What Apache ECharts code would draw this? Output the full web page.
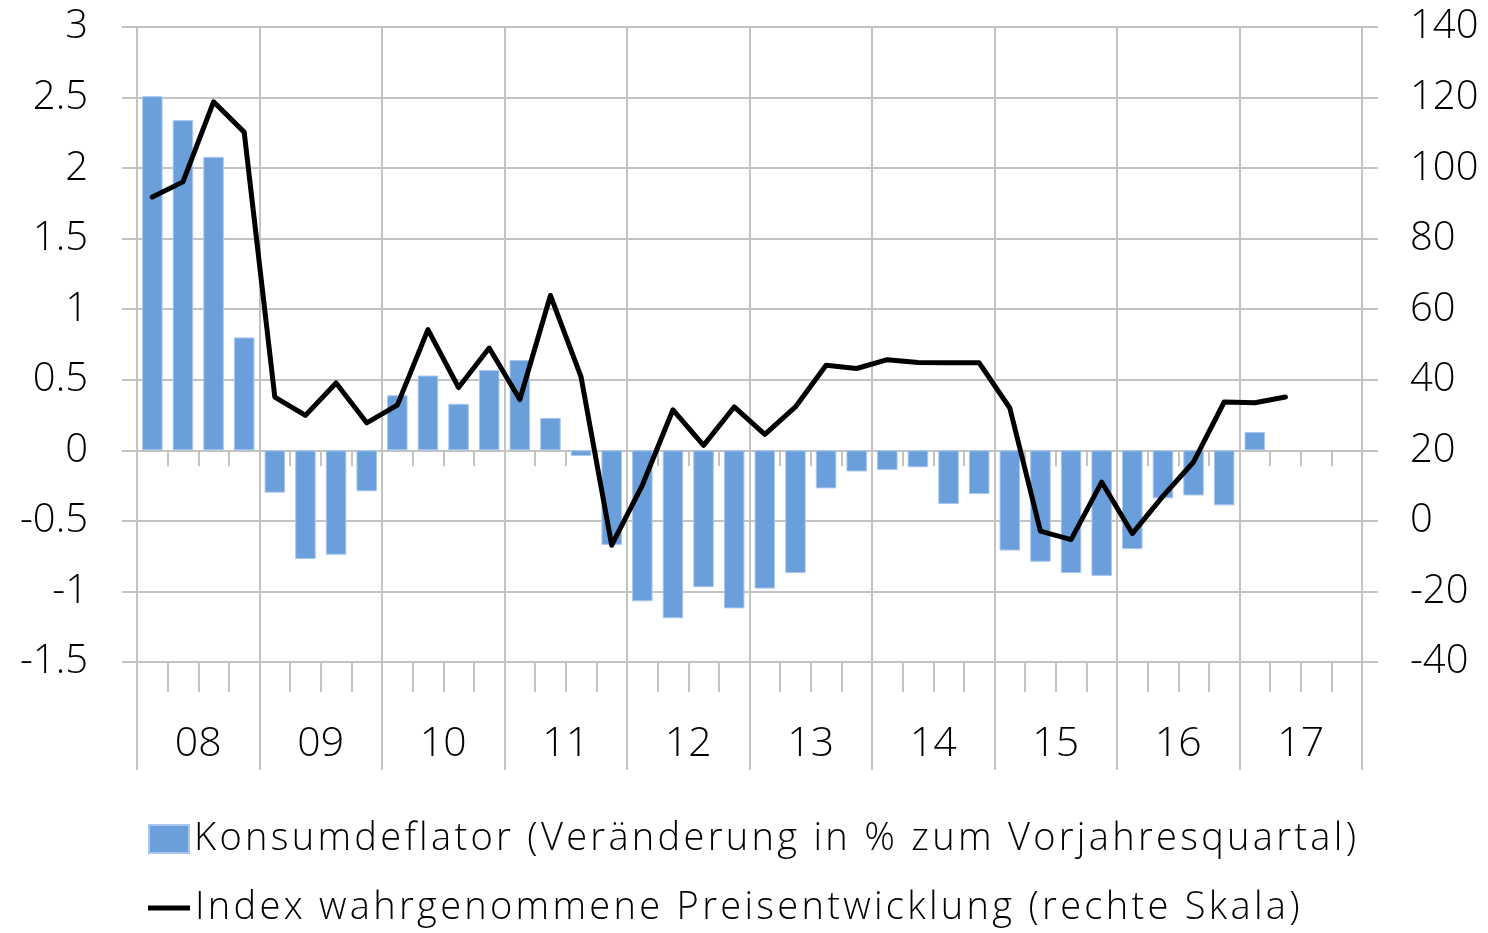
<!DOCTYPE html>
<html>
<head>
<meta charset="utf-8">
<script src="https://cdn.jsdelivr.net/npm/echarts@6/dist/echarts.min.js"></script>
<style>
html,body{margin:0;padding:0;background:#fff;}
#chart{width:1488px;height:933px;}
</style>
</head>
<body>
<div id="chart"></div>
<script>
// Quarters 2008Q1 .. 2017Q4
const years = ['08','09','10','11','12','13','14','15','16','17'];
const quarters = [];
years.forEach(function (y) { ['Q1','Q2','Q3','Q4'].forEach(function (q) { quarters.push(y + q); }); });

// Konsumdeflator (Veränderung in % zum Vorjahresquartal), left axis
const deflator = [
  2.51, 2.34, 2.08, 0.80,
  -0.30, -0.77, -0.74, -0.29,
  0.39, 0.53, 0.33, 0.57,
  0.64, 0.23, -0.04, -0.67,
  -1.07, -1.19, -0.97, -1.12,
  -0.98, -0.87, -0.27, -0.15,
  -0.14, -0.12, -0.38, -0.31,
  -0.71, -0.79, -0.87, -0.89,
  -0.70, -0.34, -0.32, -0.39,
  0.13
];

// Index wahrgenommene Preisentwicklung (rechte Skala)
const perceived = [
  91.8, 96.1, 118.8, 110.2,
  35.1, 29.9, 39.1, 27.8,
  32.8, 54.2, 37.8, 49.0,
  34.4, 63.9, 40.8, -6.9,
  10.1, 31.5, 21.4, 32.3,
  24.5, 32.3, 44.1, 43.2,
  45.7, 44.9, 44.8, 44.8,
  32.0, -2.9, -5.3, 11.0,
  -3.6, 7.0, 16.7, 33.7,
  33.5, 35.1
];

const leftTicks = { min: -1.5, max: 3, interval: 0.5 };
const rightTicks = { min: -40, max: 140, interval: 20 };

const nameBar = 'Konsumdeflator (Veränderung in % zum Vorjahresquartal)';
const nameLine = 'Index wahrgenommene Preisentwicklung (rechte Skala)';

const FONT = '"Open Sans", "Noto Sans", sans-serif';
const GRID = '#c3c3c3';

// wider tracking for the two legend texts (the original font runs wider)
(function () {
  const proto = CanvasRenderingContext2D.prototype;
  const origFill = proto.fillText;
  proto.fillText = function (t) {
    if ((t === nameBar || t === nameLine) && 'letterSpacing' in this) {
      const prev = this.letterSpacing;
      this.letterSpacing = '3.3px';
      const r = origFill.apply(this, arguments);
      this.letterSpacing = prev;
      return r;
    }
    return origFill.apply(this, arguments);
  };
})();

const chart = echarts.init(document.getElementById('chart'), null, { renderer: 'canvas' });

chart.setOption({
  animation: false,
  backgroundColor: '#ffffff',
  textStyle: { fontFamily: FONT, fontWeight: 300 },
  grid: { left: 137, right: 126, top: 27, bottom: 271, containLabel: false },
  legend: [
    {
      data: [{ name: nameBar, icon: 'rect' }],
      left: 148, top: 819, orient: 'vertical', padding: 0,
      itemWidth: 40, itemHeight: 28,
      textStyle: { fontFamily: FONT, fontWeight: 300, fontSize: 38, color: '#000', lineHeight: 40 },
      selectedMode: false
    },
    {
      data: [{ name: nameLine, icon: 'rect' }],
      left: 148, top: 888, orient: 'vertical', padding: 0,
      itemWidth: 42, itemHeight: 5,
      textStyle: { fontFamily: FONT, fontWeight: 300, fontSize: 38, color: '#000', lineHeight: 40 },
      selectedMode: false
    }
  ],
  xAxis: [
    {
      type: 'category', data: quarters, position: 'bottom', boundaryGap: true,
      axisLine: { show: true, onZero: true, onZeroAxisIndex: 0, lineStyle: { color: GRID, width: 2 } },
      axisTick: { show: true, interval: 0, length: 16, lineStyle: { color: GRID, width: 2 } },
      axisLabel: { show: false },
      splitLine: { show: false }
    },
    {
      type: 'category', data: quarters, position: 'bottom', boundaryGap: true,
      axisLine: { show: true, onZero: false, lineStyle: { color: GRID, width: 2 } },
      axisTick: { show: true, interval: 0, length: 30, lineStyle: { color: GRID, width: 2 } },
      axisLabel: { show: false },
      splitLine: { show: false }
    },
    {
      type: 'category', data: years, position: 'bottom', boundaryGap: true,
      axisLine: { show: false, onZero: false },
      axisTick: { show: true, interval: 0, length: 108, lineStyle: { color: GRID, width: 2 } },
      axisLabel: { show: true, interval: 0, margin: 62, fontFamily: FONT, fontWeight: 300, fontSize: 41, color: '#000', lineHeight: 40 },
      splitLine: { show: true, interval: 0, lineStyle: { color: GRID, width: 2 } }
    }
  ],
  yAxis: [
    {
      type: 'value', position: 'left',
      min: leftTicks.min, max: leftTicks.max, interval: leftTicks.interval,
      axisLine: { show: false },
      axisTick: { show: true, length: 15, lineStyle: { color: GRID, width: 2 } },
      axisLabel: { margin: 49, fontFamily: FONT, fontWeight: 300, fontSize: 40, color: '#000' },
      splitLine: { show: true, lineStyle: { color: GRID, width: 2 } }
    },
    {
      type: 'value', position: 'right',
      min: rightTicks.min, max: rightTicks.max, interval: rightTicks.interval,
      axisLine: { show: false },
      axisTick: { show: true, length: 16, lineStyle: { color: GRID, width: 2 } },
      axisLabel: { margin: 48, fontFamily: FONT, fontWeight: 300, fontSize: 40, color: '#000' },
      splitLine: { show: false }
    }
  ],
  series: [
    {
      name: nameBar, type: 'bar', xAxisIndex: 0, yAxisIndex: 0,
      data: deflator, barWidth: '67%',
      itemStyle: { color: '#6b9fdb', borderColor: '#a9c7ee', borderWidth: 1 },
      z: 2
    },
    {
      name: nameLine, type: 'line', xAxisIndex: 0, yAxisIndex: 1,
      data: perceived, symbol: 'none', showSymbol: false,
      itemStyle: { color: '#000' },
      lineStyle: { color: '#000', width: 5, join: 'round', cap: 'round' },
      z: 3
    }
  ]
});
</script>
</body>
</html>
